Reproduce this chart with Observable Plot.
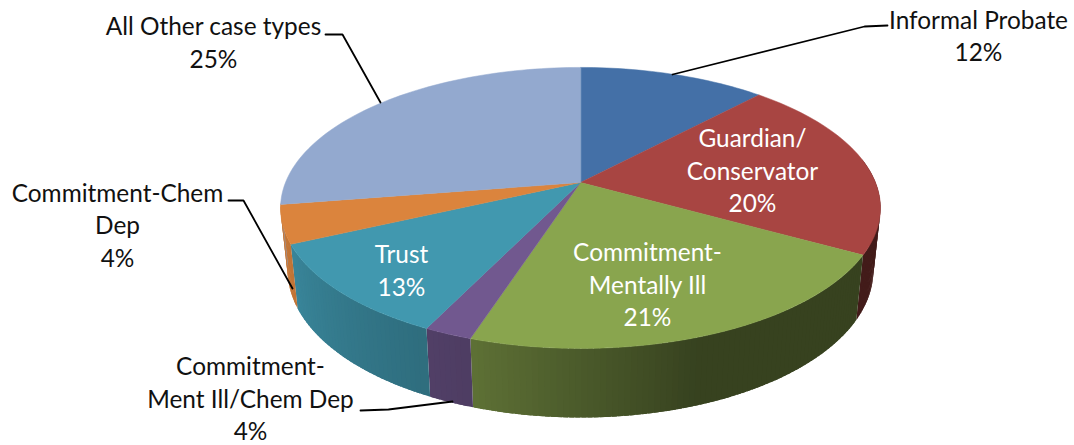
<!DOCTYPE html>
<html>
<head>
<meta charset="utf-8">
<script src="https://cdn.jsdelivr.net/npm/d3@7"></script>
<script src="https://cdn.jsdelivr.net/npm/@observablehq/plot@0.6"></script>
<style>html,body{margin:0;padding:0;background:#fff}svg{display:block}</style>
</head>
<body>
<div id="chart"></div>
<script>
// slice order runs clockwise from 12 o'clock
const categories = ["Informal Probate","Guardian/\nConservator","Commitment-\nMentally Ill","Commitment-\nMent Ill/Chem Dep","Trust","Commitment-Chem\nDep","All Other case types"];
const statedPercent = [12,20,21,4,13,4,25];
// angular share of each slice as drawn in the picture (percent of the circle)
const drawnShare = [12,21.1,21.9,2.2,10.9,4.4,27.5];
const sliceColors = ["#4470a7","#a84542","#89a54e","#71588f","#4198af","#db843d","#93a9cf"];

// label layout, separate from the values
const labelX = [978,752,647,250,401,117,213];
const labelY = [34,169,283,397,268.5,223.5,40.5];
const labelInside = [false,true,true,false,true,false,false];
const leaders = [
  [[887,25],[864,26],[672,74]],
  [[325,34],[342,34],[380,102]],
  [[228,200],[243,200],[292,288]],
  [[360,410],[388,409],[452,401]]
];

// perspective of the pie disc
const topDisc = {cx:580, cy:182, a:295, b:135.9, k:0.181};
const baseDisc = {cx:580, cy:243.4, a:288, b:142.2, k:0.181};
const project = (disc, deg) => {
  const t = deg*Math.PI/180, X = Math.sin(t), Y = Math.cos(t), w = 1 + disc.k*Y;
  return [disc.cx + disc.a*X/w, disc.cy - disc.b*Y/w];
};
const cum = d3.cumsum(drawnShare);
const start = i => i === 0 ? 0 : cum[i-1]*3.6;
const end = i => cum[i]*3.6;

const wedges = [];
categories.forEach((c,i) => {
  wedges.push({id:i, fill:sliceColors[i], p:[topDisc.cx, topDisc.cy]});
  const n = Math.ceil((end(i)-start(i))/1.5);
  for (let j=0;j<=n;j++) wedges.push({id:i, fill:sliceColors[i], p:project(topDisc, start(i)+(end(i)-start(i))*j/n)});
});

// wall shading by position around the rim
const shade = d3.scaleLinear().domain([90,160,198,206,245,270]).range([0.4,0.4,0.69,0.72,0.88,0.95]).clamp(true);
const wall = [];
let stripId = 0;
categories.forEach((c,i) => {
  const from = Math.max(start(i), 80), to = Math.min(end(i), 262);
  if (to <= from) return;
  const step = 1;
  const n = Math.ceil((to-from)/step);
  const da = (to-from)/n;
  const col = d3.rgb(sliceColors[i]);
  // painted rim-wards, each strip overlapping the next so no seams show
  for (let j=n-1;j>=0;j--) {
    const a0 = from+da*j, a1 = Math.min(to, a0+da*1.8);
    const s = shade(a0+da/2);
    const fill = d3.rgb(col.r*s, col.g*s, col.b*s).formatHex();
    const id = stripId++;
    [project(topDisc,a0),project(topDisc,a1),project(baseDisc,a1),project(baseDisc,a0)]
      .forEach(p => wall.push({id, fill, p}));
  }
});

const labels = categories.map((c,i) => ({
  text: `${c}\n${statedPercent[i]}%`, x: labelX[i], y: labelY[i], inside: labelInside[i]
}));
const leaderPts = leaders.flatMap((l,id) => l.map(p => ({id, p})));

const textOpts = {x:"x", y:"y", text:"text", textAnchor:"middle", fontSize:24.4, lineHeight:32.5/24.4, fontFamily:"Lato"};

const chart = Plot.plot({
  width:1074, height:445, margin:0,
  x:{domain:[0,1074], range:[0,1074], axis:null},
  y:{domain:[0,445], range:[0,445], axis:null},
  color:{type:"identity"},
  style:{background:"#fff"},
  marks:[
    Plot.line(wall, {x:d=>d.p[0], y:d=>d.p[1], z:"id", fill:"fill", curve:"linear-closed"}),
    Plot.line(wedges, {x:d=>d.p[0], y:d=>d.p[1], z:"id", fill:"fill", stroke:"fill", strokeWidth:0.5, curve:"linear-closed"}),
    Plot.line(leaderPts, {x:d=>d.p[0], y:d=>d.p[1], z:"id", stroke:"#000", strokeWidth:1.8, curve:"linear"}),
    Plot.text(labels.filter(d=>!d.inside), {...textOpts, fill:"#111"}),
    Plot.text(labels.filter(d=>d.inside), {...textOpts, fill:"#fff"})
  ]
});
document.getElementById("chart").append(chart);
</script>
</body>
</html>
